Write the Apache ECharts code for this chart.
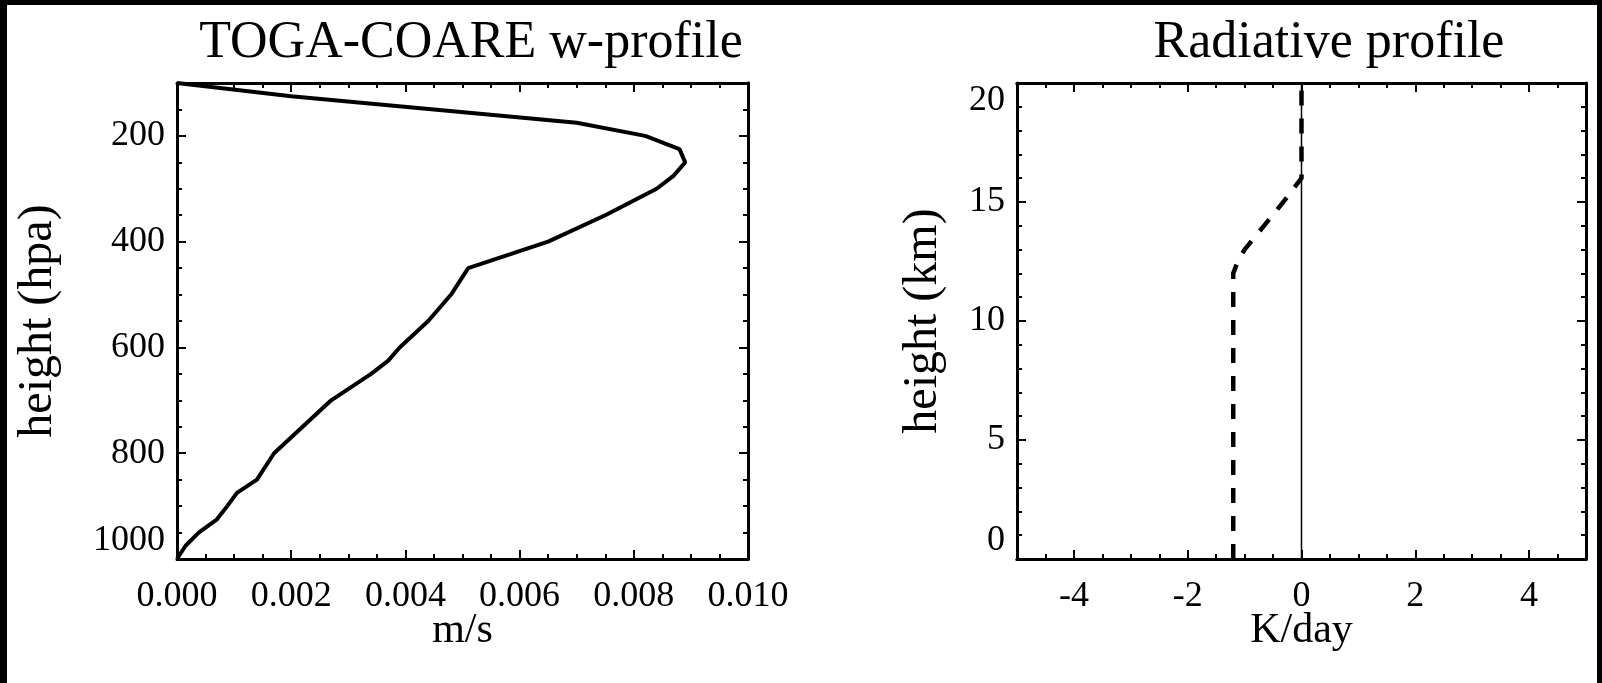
<!DOCTYPE html>
<html>
<head>
<meta charset="utf-8">
<script src="https://cdn.jsdelivr.net/npm/echarts@6/dist/echarts.min.js"></script>
<style>
  html, body { margin: 0; padding: 0; background: #fff; }
  #chart { width: 1602px; height: 683px; }
</style>
</head>
<body>
<div id="chart"></div>
<script>
// TOGA-COARE vertical velocity profile (m/s vs hPa)
const pressureLevels = [100, 125, 150, 175, 200, 225, 250, 275, 300, 350, 400, 450, 500, 550, 600, 625, 650, 700, 750, 800, 850, 875, 900, 925, 950, 975, 1000];
const wVelocity = [0, 0.0020, 0.0045, 0.0070, 0.0082, 0.0088, 0.0089, 0.0087, 0.0084, 0.0075, 0.0065, 0.0051, 0.0048, 0.0044, 0.0039, 0.0037, 0.0034, 0.0027, 0.0022, 0.0017, 0.0014, 0.00105, 0.00088, 0.0007, 0.00038, 0.00015, 0];

// radiative cooling profile (K/day vs km)
const radHeights = [0, 12, 12.5, 13, 14, 15, 16, 20];
const radHeating = [-1.2, -1.2, -1.12, -1.0, -0.66, -0.32, 0, 0];
const zeroLine = [[0, 0], [0, 20]];

// tick labels
const pTicks = [200, 400, 600, 800, 1000];
const kTicks = [-4, -2, 0, 2, 4];

const FONT = '"Liberation Serif", "DejaVu Serif", serif';
const BLACK = '#000';

const wData = wVelocity.map((w, i) => [w, pressureLevels[i]]);
const radData = radHeating.map((k, i) => [k, radHeights[i]]);

function baseAxis(extra) {
  return Object.assign({
    type: 'value',
    splitLine: { show: false },
    axisLine: { show: true, onZero: false, lineStyle: { color: BLACK, width: 3 } },
    axisTick: { show: true, inside: true, length: 9, lineStyle: { color: BLACK, width: 2 } },
    minorTick: { show: false },
    axisLabel: { show: false },
    nameMoveOverlap: false,
    nameTextStyle: { fontFamily: FONT, fontSize: 42, color: BLACK }
  }, extra);
}

const labelStyle = { show: true, fontFamily: FONT, fontSize: 36, color: BLACK };
const yNameStyle = { fontFamily: FONT, fontSize: 48, color: BLACK };

const xAxis = [
  // left grid bottom
  baseAxis({
    gridIndex: 0, position: 'bottom', min: 0, max: 0.010, interval: 0.002,
    minorTick: { show: true, splitNumber: 4, length: 5, lineStyle: { color: BLACK, width: 2 } },
    axisLabel: Object.assign({}, labelStyle, { margin: 20, formatter: v => v.toFixed(3) }),
    name: 'm/s', nameLocation: 'middle', nameGap: 51
  }),
  // left grid top
  baseAxis({
    gridIndex: 0, position: 'top', min: 0, max: 0.010, interval: 0.002,
    minorTick: { show: true, splitNumber: 4, length: 5, lineStyle: { color: BLACK, width: 2 } }
  }),
  // right grid bottom: minor ticks
  baseAxis({
    gridIndex: 1, position: 'bottom', min: -5, max: 5, interval: 0.5,
    axisTick: { show: true, inside: true, length: 5, lineStyle: { color: BLACK, width: 2 } }
  }),
  // right grid bottom: major ticks + labels
  baseAxis({
    gridIndex: 1, position: 'bottom', min: -5, max: 5,
    axisTick: { show: true, inside: true, length: 9, customValues: kTicks, lineStyle: { color: BLACK, width: 2 } },
    axisLabel: Object.assign({}, labelStyle, { margin: 20, customValues: kTicks }),
    name: 'K/day', nameLocation: 'middle', nameGap: 51
  }),
  // right grid top: minor + major
  baseAxis({
    gridIndex: 1, position: 'top', min: -5, max: 5, interval: 0.5,
    axisTick: { show: true, inside: true, length: 5, lineStyle: { color: BLACK, width: 2 } }
  }),
  baseAxis({
    gridIndex: 1, position: 'top', min: -5, max: 5,
    axisTick: { show: true, inside: true, length: 9, customValues: kTicks, lineStyle: { color: BLACK, width: 2 } }
  })
];

const yAxis = [
  // left grid, left side minor ticks (data axis)
  baseAxis({
    gridIndex: 0, position: 'left', min: 100, max: 1000, interval: 50, inverse: true,
    axisTick: { show: true, inside: true, length: 5, lineStyle: { color: BLACK, width: 2 } },
    name: 'height (hpa)', nameLocation: 'middle', nameGap: 115, nameTextStyle: yNameStyle
  }),
  // left grid, left side major ticks + labels
  baseAxis({
    gridIndex: 0, position: 'left', min: 100, max: 1000, inverse: true,
    axisTick: { show: true, inside: true, length: 9, customValues: pTicks, lineStyle: { color: BLACK, width: 2 } },
    axisLabel: Object.assign({}, labelStyle, {
      margin: 12, customValues: pTicks, verticalAlignMaxLabel: 'bottom', formatter: v => String(v)
    })
  }),
  // left grid, right side
  baseAxis({
    gridIndex: 0, position: 'right', min: 100, max: 1000, interval: 50, inverse: true,
    axisTick: { show: true, inside: true, length: 5, lineStyle: { color: BLACK, width: 2 } }
  }),
  baseAxis({
    gridIndex: 0, position: 'right', min: 100, max: 1000, inverse: true,
    axisTick: { show: true, inside: true, length: 9, customValues: pTicks, lineStyle: { color: BLACK, width: 2 } }
  }),
  // right grid, left side
  baseAxis({
    gridIndex: 1, position: 'left', min: 0, max: 20, interval: 5,
    minorTick: { show: true, splitNumber: 5, length: 5, lineStyle: { color: BLACK, width: 2 } },
    axisLabel: Object.assign({}, labelStyle, { margin: 12, verticalAlignMinLabel: 'bottom', verticalAlignMaxLabel: 'top' }),
    name: 'height (km)', nameLocation: 'middle', nameGap: 70, nameTextStyle: yNameStyle
  }),
  // right grid, right side
  baseAxis({
    gridIndex: 1, position: 'right', min: 0, max: 20, interval: 5,
    minorTick: { show: true, splitNumber: 5, length: 5, lineStyle: { color: BLACK, width: 2 } }
  })
];

const chart = echarts.init(document.getElementById('chart'), null, { renderer: 'canvas' });

chart.setOption({
  backgroundColor: '#fff',
  animation: false,
  title: [
    { text: 'TOGA-COARE w-profile', left: 466, top: 12, textAlign: 'center',
      textStyle: { fontFamily: FONT, fontSize: 52, fontWeight: 'normal', color: BLACK } },
    { text: 'Radiative profile', left: 1324, top: 12, textAlign: 'center',
      textStyle: { fontFamily: FONT, fontSize: 52, fontWeight: 'normal', color: BLACK } }
  ],
  grid: [
    { left: 177, top: 83, width: 571, height: 476 },
    { left: 1017, top: 83, width: 569, height: 476 }
  ],
  xAxis: xAxis,
  yAxis: yAxis,
  series: [
    {
      type: 'line', xAxisIndex: 0, yAxisIndex: 0, data: wData,
      showSymbol: false, symbol: 'none',
      lineStyle: { color: BLACK, width: 4 }
    },
    {
      type: 'line', xAxisIndex: 2, yAxisIndex: 4, data: zeroLine,
      showSymbol: false, symbol: 'none',
      lineStyle: { color: BLACK, width: 1.5 }
    },
    {
      type: 'line', xAxisIndex: 2, yAxisIndex: 4, data: radData,
      showSymbol: false, symbol: 'none',
      lineStyle: { color: BLACK, width: 4.5, type: [15, 13] }
    }
  ],
  graphic: [
    { type: 'rect', shape: { x: 0, y: 0, width: 1602, height: 5 }, style: { fill: BLACK } },
    { type: 'rect', shape: { x: 0, y: 0, width: 7, height: 683 }, style: { fill: BLACK } },
    { type: 'rect', shape: { x: 1597, y: 0, width: 5, height: 683 }, style: { fill: BLACK } }
  ]
});
</script>
</body>
</html>
